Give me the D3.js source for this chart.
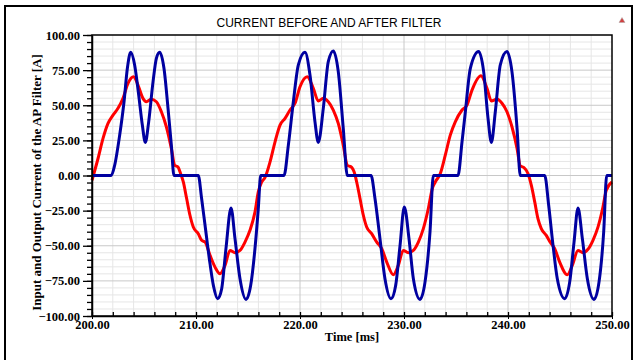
<!DOCTYPE html>
<html>
<head>
<meta charset="utf-8">
<script src="https://cdn.jsdelivr.net/npm/d3@7"></script>
<style>
  body { margin: 0; background: #fff; }
  svg { display: block; }
</style>
</head>
<body>
<div id="graphic"></div>
<script>
// input current (red)
var timeIn = [200.0, 200.58, 201.06, 201.54, 202.02, 202.5, 202.98, 203.46, 204.0, 204.42, 204.9, 205.22, 205.7, 206.19, 206.67, 207.15, 207.63, 207.95, 208.27, 208.46, 208.78, 209.1, 209.42, 209.74, 210.22, 210.54, 210.87, 211.35, 211.83, 212.31, 212.79, 213.27, 213.75, 214.23, 214.71, 215.19, 215.67, 215.99, 216.32, 216.63,
  217.12, 217.6, 218.08, 218.56, 219.04, 219.52, 220.0, 220.7, 221.28, 221.76, 222.24, 222.72, 223.2, 223.68, 224.16, 224.55, 224.97, 225.2, 225.45, 225.77, 226.09, 226.41, 226.89, 227.38, 227.86, 228.34, 228.97, 229.45, 229.93, 230.41, 230.9, 231.38, 231.86, 232.34, 232.72, 233.01,
  233.49, 233.97, 234.45, 234.93, 235.58, 236.06, 236.54, 237.4, 237.98, 238.4, 238.94, 239.42, 239.9, 240.38, 240.87, 241.18, 241.5, 241.92, 242.24, 242.57, 242.88, 243.2, 243.68, 244.01, 244.49, 244.97, 245.7, 246.18, 246.73, 247.21, 247.69, 248.17, 248.65, 249.13, 249.45, 250.0];
var currentIn = [-3.4, 12.1, 26.4, 37.1, 43, 47.8, 54.9, 65.6, 70.3, 64.4, 54.9, 52.5, 54.2, 52.5, 45.4, 34.7, 19.3, 7.3, 6.1, 2.6, -4.6, -16.4, -28.3, -36.7, -41.4, -46.1, -47.4, -56.8, -65.2, -69.9, -64, -53.3, -54.9, -53.3, -47.4, -39, -26, -11.7, -4.6, -1.5,
  9.7, 24, 35.9, 40.7, 46.6, 51.4, 63.2, 70.3, 62, 53, 54.9, 52.5, 46.6, 37.1, 21.6, 7.3, 5.8, 2.6, -4.6, -16.4, -28.3, -36.7, -41.4, -47.4, -52.1, -61.6, -70.6, -64, -53.3, -54.9, -53.3, -47.4, -37.8, -23.5, -9.3, -4.6,
  1.4, 14.5, 28.7, 38.2, 46.6, 50.1, 60.8, 71, 62, 53, 54.4, 51.4, 45.4, 34.7, 19.3, 6.8, 5.8, 1.4, -6.9, -18.8, -30.7, -37.8, -42.6, -46.9, -52.1, -61.6, -70.6, -64, -53.3, -54.9, -52.5, -46.1, -36.7, -22.4, -10.5, -4.6];

// output current after the filter (blue)
var timeOut = [200.0, 201.85, 202.18, 202.66, 203.08, 203.4, 203.72, 204.1, 204.49, 204.84, 205.13, 205.45, 205.87, 206.19, 206.51, 206.92, 207.31, 207.63, 207.88,
  210.22, 210.54, 210.87, 211.28, 211.67, 212.09, 212.47, 212.88, 213.37, 213.75, 214.23, 214.81, 215.26, 215.67, 215.99, 216.22,
  218.46, 218.88, 219.36, 219.84, 220.48, 220.96, 221.44, 221.76, 222.24, 222.72, 223.2, 223.68, 224.16, 224.55,
  226.83, 227.21, 227.69, 228.17, 228.75, 229.2, 229.62, 230.03, 230.48, 230.9, 231.54, 232.02, 232.5, 232.82,
  235.19, 235.58, 235.9, 236.38, 237.18, 237.66, 238.08, 238.4, 238.78, 239.26, 239.9, 240.38, 240.87, 241.18,
  243.53, 243.91, 244.33, 244.74, 245.45, 245.93, 246.35, 246.73, 247.15, 247.63, 248.27, 248.75, 249.2, 249.49, 250.0];
var currentOut = [0, 0, 7.3, 28.7, 52.5, 76.3, 87.7, 78.7, 57.3, 35.9, 23.5, 38.2, 66.8, 83.4, 87.7, 76.3, 47.8, 21.6, 0,
  0, -16.4, -35.4, -59.2, -78.2, -87.7, -80.6, -52.1, -23.1, -44.9, -73.5, -88.2, -78.2, -52.1, -23.6, 0,
  0, 21.6, 52.5, 78.7, 87.7, 71.5, 38.2, 23.5, 47.8, 81, 88.6, 73.9, 33.5, 0,
  0, -16.4, -44.9, -73.5, -87.7, -78.2, -49.7, -22.4, -44.9, -73.5, -88.2, -75.9, -40.2, 0,
  0, 24, 45.4, 76.3, 88.2, 73.9, 40.7, 23.5, 45.4, 78.7, 88.2, 73.9, 33.5, 0,
  0, -21.2, -49.7, -73.5, -87.7, -75.9, -47.4, -23.1, -44.9, -73.5, -88.2, -75.9, -40.2, 0, 0];

var xTicks = [200, 210, 220, 230, 240, 250];
var yTicks = [-100, -75, -50, -25, 0, 25, 50, 75, 100];

var margin = {top: 35, right: 30, bottom: 44, left: 92};
var W = 642, H = 360;
var width = W - margin.left - margin.right,
    height = H - margin.top - margin.bottom;

var svg = d3.select("#graphic").append("svg")
    .attr("width", W)
    .attr("height", H);

// outer frame
svg.append("rect")
    .attr("x", 5).attr("y", 6)
    .attr("width", 627).attr("height", 360)
    .attr("fill", "none")
    .attr("stroke", "#000")
    .attr("stroke-width", 2);

svg.append("text")
    .attr("x", 329).attr("y", 27)
    .attr("text-anchor", "middle")
    .attr("font-family", "Liberation Sans, Arial, sans-serif")
    .attr("font-size", "12px")
    .text("CURRENT BEFORE AND AFTER FILTER");

// little warning mark top right
svg.append("path")
    .attr("d", "M622,17.5 L625,22.5 L619,22.5 Z")
    .attr("fill", "#d04040")
    .attr("stroke", "#aaa")
    .attr("stroke-width", 0.5);

var canvas = svg.append("g")
    .attr("transform", "translate(" + margin.left + "," + margin.top + ")");

var x = d3.scaleLinear().domain([200, 250]).range([0, width]);
var y = d3.scaleLinear().domain([-100, 100]).range([height, 0]);

// grid - minor first, then major
canvas.append("g").selectAll("line")
    .data(d3.range(202, 250, 2).filter(d => d % 10 != 0))
    .enter().append("line")
    .attr("x1", d => x(d)).attr("x2", d => x(d))
    .attr("y1", 0).attr("y2", height)
    .attr("stroke", "#e6e6e6");
canvas.append("g").selectAll("line")
    .data(d3.range(-95, 100, 5).filter(d => d % 25 != 0))
    .enter().append("line")
    .attr("y1", d => y(d)).attr("y2", d => y(d))
    .attr("x1", 0).attr("x2", width)
    .attr("stroke", "#e6e6e6");
canvas.append("g").selectAll("line")
    .data(xTicks.slice(1, -1))
    .enter().append("line")
    .attr("x1", d => x(d)).attr("x2", d => x(d))
    .attr("y1", 0).attr("y2", height)
    .attr("stroke", "#c8c8c8");
canvas.append("g").selectAll("line")
    .data(yTicks.slice(1, -1))
    .enter().append("line")
    .attr("y1", d => y(d)).attr("y2", d => y(d))
    .attr("x1", 0).attr("x2", width)
    .attr("stroke", "#c8c8c8");

// curves
canvas.append("clipPath").attr("id", "clip")
    .append("rect").attr("x", -2).attr("y", -2).attr("width", width + 4).attr("height", height + 4);

var line = d3.line()
    .x(d => x(d[0]))
    .y(d => y(d[1]))
    .curve(d3.curveMonotoneX);

canvas.append("path")
    .datum(d3.zip(timeIn, currentIn))
    .attr("clip-path", "url(#clip)")
    .attr("fill", "none")
    .attr("stroke", "#ff0000")
    .attr("stroke-width", 3)
    .attr("stroke-linejoin", "round")
    .attr("d", line);

canvas.append("path")
    .datum(d3.zip(timeOut, currentOut))
    .attr("clip-path", "url(#clip)")
    .attr("fill", "none")
    .attr("stroke", "#0000a0")
    .attr("stroke-width", 3)
    .attr("stroke-linejoin", "round")
    .attr("d", line);

// plot frame
canvas.append("rect")
    .attr("width", width).attr("height", height)
    .attr("fill", "none")
    .attr("stroke", "#000")
    .attr("stroke-width", 1.5);

// y axis: minor ticks, then major ticks with labels
canvas.append("g")
    .call(d3.axisLeft(y).tickValues(d3.range(-100, 101, 5)).tickSize(5).tickFormat(""))
    .call(g => g.select(".domain").remove())
    .selectAll("line").attr("stroke-width", 1.3);

var gy = canvas.append("g")
    .call(d3.axisLeft(y).tickValues(yTicks).tickSizeInner(9).tickSizeOuter(0).tickPadding(3).tickFormat(d3.format(".2f")));
gy.select(".domain").attr("stroke-width", 1.5);
gy.selectAll("line").attr("stroke-width", 1.3);
gy.selectAll("text")
    .attr("font-family", "Liberation Serif, Times New Roman, serif")
    .attr("font-weight", "bold")
    .attr("font-size", "12.5px")
    .attr("fill", "#000");

// x axis: minor ticks point inward
canvas.append("g")
    .attr("transform", "translate(0," + height + ")")
    .call(d3.axisBottom(x).tickValues(d3.range(200, 251, 2)).tickSize(-4).tickFormat(""))
    .call(g => g.select(".domain").remove())
    .selectAll("line").attr("stroke-width", 1.3);

var gx = canvas.append("g")
    .attr("transform", "translate(0," + height + ")")
    .call(d3.axisBottom(x).tickValues(xTicks).tickSizeInner(3).tickSizeOuter(0).tickFormat(d3.format(".2f")));
gx.select(".domain").attr("stroke-width", 1.5);
gx.selectAll("text")
    .attr("y", 4)
    .attr("font-family", "Liberation Serif, Times New Roman, serif")
    .attr("font-weight", "bold")
    .attr("font-size", "12.5px")
    .attr("fill", "#000");

// axis titles
svg.append("text")
    .attr("x", margin.left + width / 2)
    .attr("y", 341)
    .attr("text-anchor", "middle")
    .attr("font-family", "Liberation Serif, Times New Roman, serif")
    .attr("font-weight", "bold")
    .attr("font-size", "12.5px")
    .text("Time [ms]");

svg.append("text")
    .attr("transform", "translate(41," + (margin.top + height / 2 + 7) + ") rotate(-90)")
    .attr("text-anchor", "middle")
    .attr("font-family", "Liberation Serif, Times New Roman, serif")
    .attr("font-weight", "bold")
    .attr("font-size", "13px")
    .text("Input and Output Current of the AP Filter [A]");
</script>
</body>
</html>
